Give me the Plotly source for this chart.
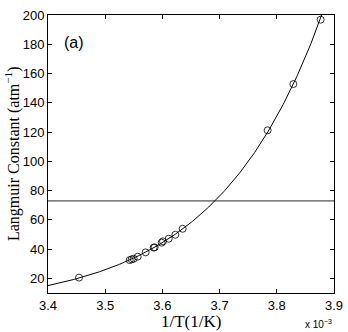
import numpy as np
import plotly.graph_objects as go

# x values in units of 1e-3 (1/K)
inv_T = [3.4542, 3.5428, 3.5463, 3.5498, 3.5568, 3.5707, 3.5847, 3.5865,
         3.5987, 3.6010, 3.6110, 3.6226, 3.6354, 3.7840, 3.8289, 3.8767]
langmuir = [20.5, 32.5, 33.0, 33.4, 34.8, 37.8, 41.0, 41.2,
            44.4, 45.3, 47.1, 49.8, 53.9, 121.2, 152.8, 196.8]
h_level = 73.0
x_ticks = [3.4, 3.5, 3.6, 3.7, 3.8, 3.9]
y_ticks = [20, 40, 60, 80, 100, 120, 140, 160, 180, 200]

# exponential fit through the data points
b, a = np.polyfit(np.array(inv_T), np.log(np.array(langmuir)), 1)
xf = np.linspace(3.4, 3.9, 300)
yf = np.exp(a + b * xf)

fig = go.Figure()
fig.add_trace(go.Scatter(x=[3.4, 3.9], y=[h_level, h_level], mode="lines",
                         line=dict(color="#555555", width=1.3), showlegend=False))
fig.add_trace(go.Scatter(x=xf, y=yf, mode="lines",
                         line=dict(color="black", width=1), showlegend=False))
fig.add_trace(go.Scatter(x=inv_T, y=langmuir, mode="markers",
                         marker=dict(symbol="circle-open", size=7, color="black",
                                     line=dict(width=0.8, color="black")),
                         showlegend=False))

axis_common = dict(showgrid=False, zeroline=False, showline=True, linecolor="black",
                   linewidth=1, mirror="allticks", ticks="inside", ticklen=4,
                   tickcolor="black", automargin=False,
                   tickfont=dict(family="Liberation Sans, Arial", size=13, color="black"))

fig.update_xaxes(range=[3.4, 3.9], tickvals=x_ticks, ticktext=[f"{v:.1f}" for v in x_ticks],
                 **axis_common)
fig.update_yaxes(range=[10, 200], tickvals=y_ticks, **axis_common)

L, R, T, B = 48, 14, 15, 39
W, H = 348, 332
pw, ph = W - L - R, H - T - B

serif_family = "Liberation Serif, Times New Roman"
fig.add_annotation(x=0.5, y=(H - 321 - B) / ph, xref="paper", yref="paper", text="1/T(1/K)",
                   showarrow=False, font=dict(family=serif_family, size=17, color="black"),
                   xanchor="center", yanchor="middle")
fig.add_annotation(x=(12 - L) / pw, y=(H - 154 - B) / ph, xref="paper", yref="paper",
                   text="Langmuir Constant (atm<sup>\u22121</sup>)",
                   textangle=-90, showarrow=False,
                   font=dict(family=serif_family, size=16, color="black"),
                   xanchor="center", yanchor="middle")
fig.add_annotation(x=0.09, y=0.9, xref="paper", yref="paper", text="(a)", showarrow=False,
                   xanchor="center", yanchor="middle",
                   font=dict(family="Liberation Sans, Arial", size=16, color="black"))
fig.add_annotation(x=1.0, y=(H - 316 - B) / ph, xref="paper", yref="paper",
                   text="x 10<sup>\u22123</sup>", showarrow=False, xanchor="right", yanchor="top",
                   font=dict(family="Liberation Sans, Arial", size=10, color="black"))

fig.update_layout(width=W, height=H, margin=dict(l=L, r=R, t=T, b=B),
                  paper_bgcolor="white", plot_bgcolor="white")
fig.write_html("out.html", config={"displayModeBar": False},
               post_script="document.body.style.margin='0';document.body.style.padding='0';")
